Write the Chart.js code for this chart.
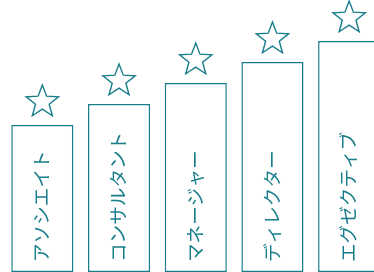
<!DOCTYPE html>
<html>
<head>
<meta charset="utf-8">
<script src="https://cdn.jsdelivr.net/npm/chart.js@4"></script>
<style>
    html, body { margin: 0; padding: 0; background: #fff; overflow: hidden; }
    #wrap { position: relative; width: 400px; height: 272px; }
</style>
</head>
<body>
<div id="wrap"><canvas id="rankChart" width="400" height="272"></canvas></div>
<script>
const labels = ["アソシエイト", "コンサルタント", "マネージャー", "ディレクター", "エグゼクティブ"];
const levels = [7, 8, 9, 10, 11];

const teal = "rgb(24, 125, 138)";

function drawStar(ctx, cx, cy, outer, inner) {
    ctx.beginPath();
    for (let i = 0; i < 10; i++) {
        const r = i % 2 === 0 ? outer : inner;
        const a = -Math.PI / 2 + i * Math.PI / 5;
        const x = cx + r * Math.cos(a);
        const y = cy + r * Math.sin(a);
        if (i === 0) ctx.moveTo(x, y); else ctx.lineTo(x, y);
    }
    ctx.closePath();
    ctx.stroke();
}

// stars above each bar + vertical labels inside bars
const decorations = {
    id: "decorations",
    afterDatasetsDraw(chart) {
        const ctx = chart.ctx;
        const meta = chart.getDatasetMeta(0);
        ctx.save();
        ctx.strokeStyle = teal;
        ctx.lineWidth = 1.4;
        meta.data.forEach(bar => {
            drawStar(ctx, bar.x, bar.y - 23, 17, 7.2);
        });
        ctx.fillStyle = teal;
        ctx.font = '18.6px "Noto Sans CJK JP"';
        ctx.textAlign = "left";
        ctx.textBaseline = "middle";
        meta.data.forEach((bar, i) => {
            ctx.save();
            ctx.translate(bar.x - 1, 262);
            ctx.rotate(-Math.PI / 2);
            ctx.fillText(labels[i], 0, 0);
            ctx.restore();
        });
        ctx.restore();
    }
};

new Chart(document.getElementById("rankChart").getContext("2d"), {
    type: "bar",
    data: {
        labels: labels,
        datasets: [{
            data: levels,
            backgroundColor: "#ffffff",
            borderColor: teal,
            borderWidth: 1.5,
            borderSkipped: false,
            barPercentage: 0.81,
            categoryPercentage: 1
        }]
    },
    options: {
        responsive: false,
        animation: false,
        devicePixelRatio: 1,
        layout: { padding: { left: 4, right: 12.5, top: 0, bottom: 0 } },
        plugins: { legend: { display: false }, tooltip: { enabled: false } },
        scales: {
            x: { display: false },
            y: { display: false, min: 0, max: 272 / 21 }
        }
    },
    plugins: [decorations]
});
</script>
</body>
</html>
